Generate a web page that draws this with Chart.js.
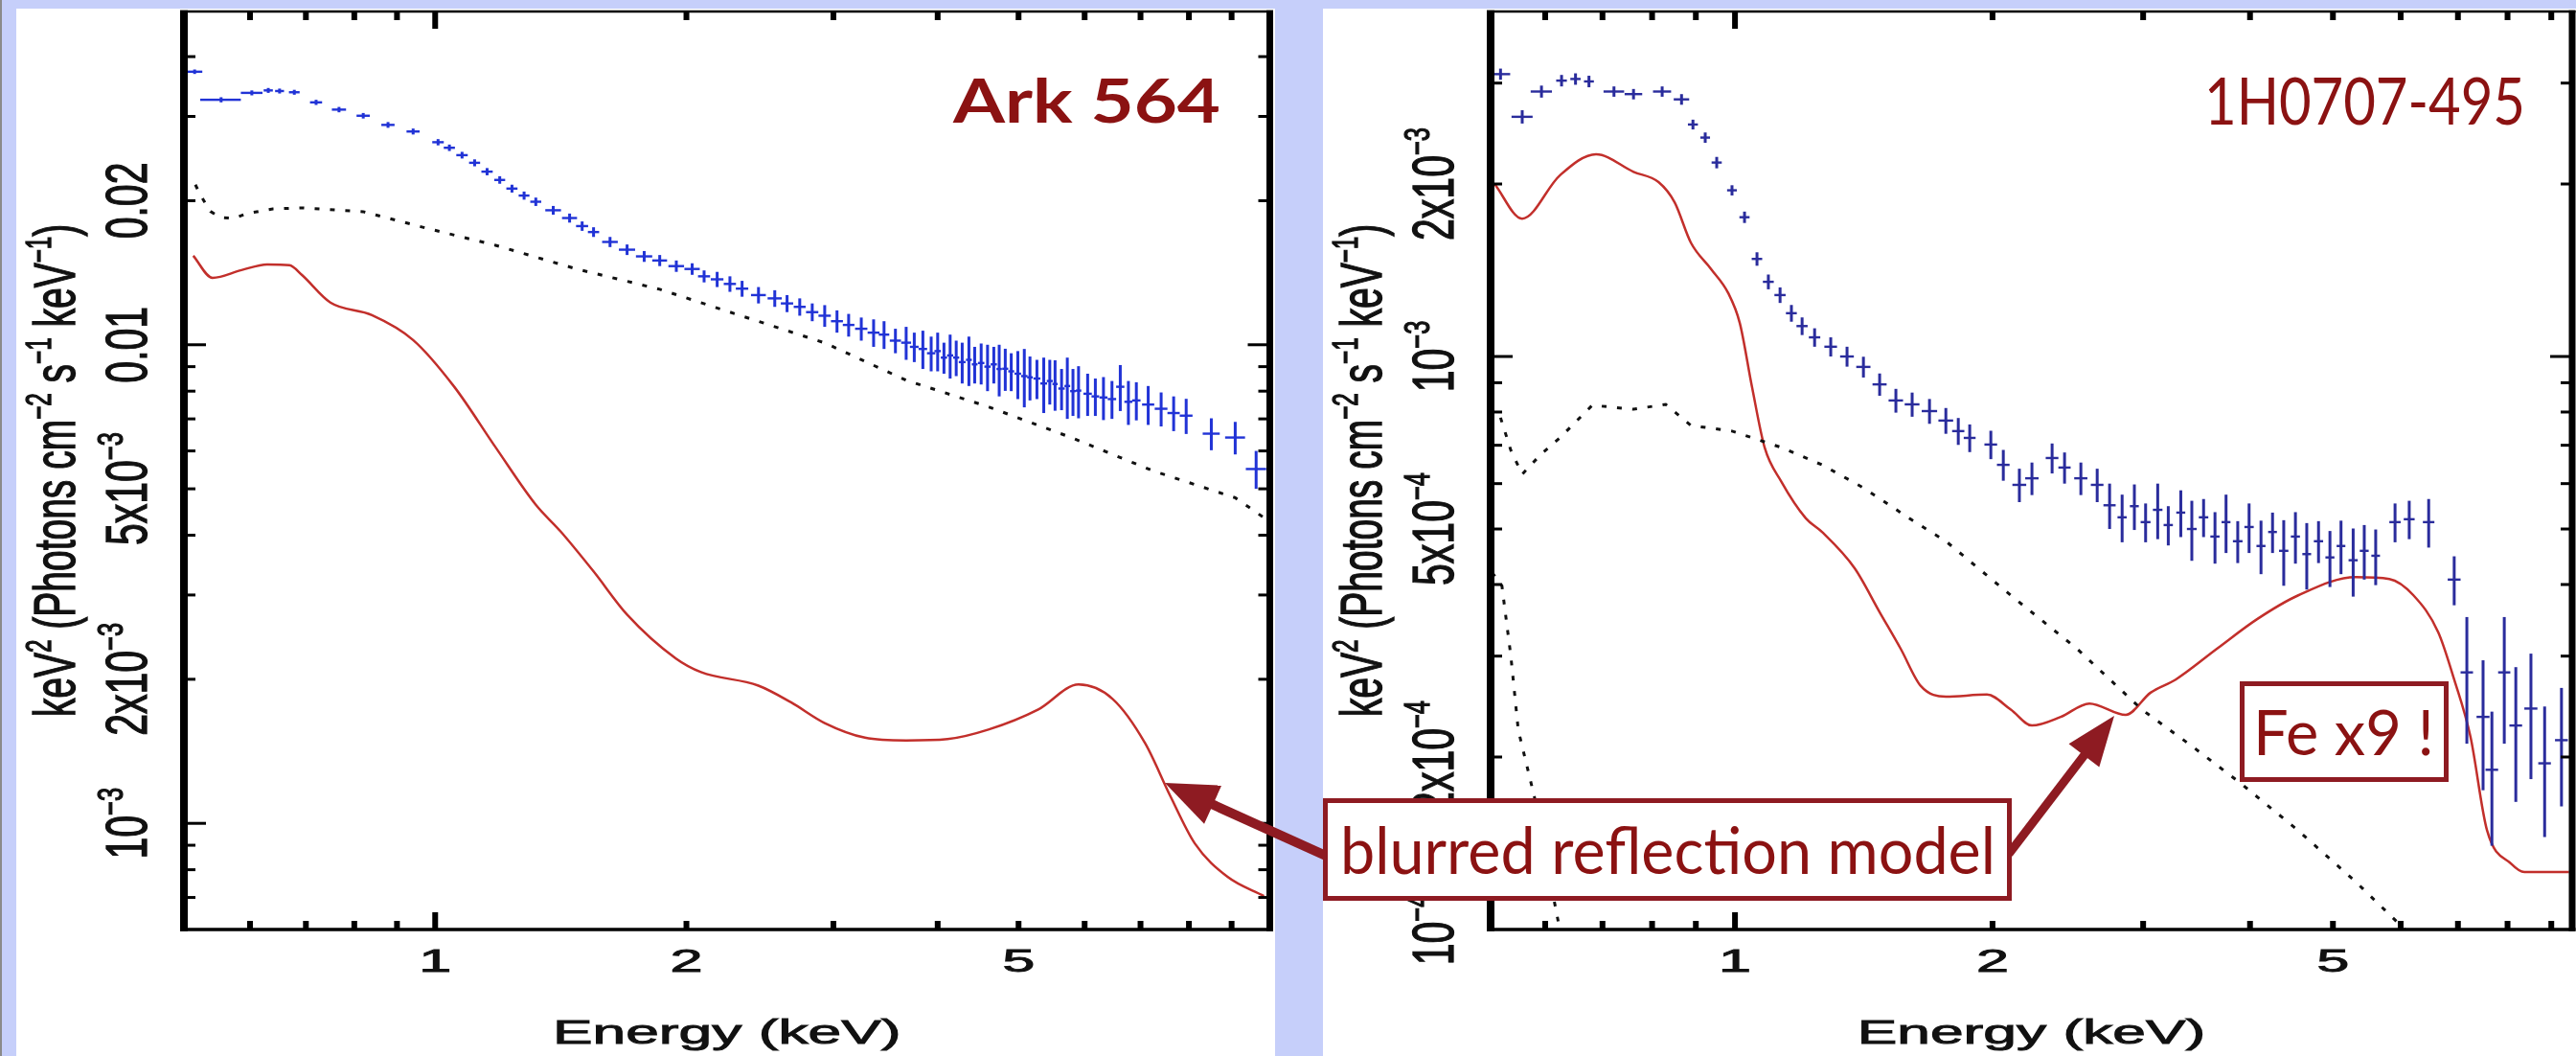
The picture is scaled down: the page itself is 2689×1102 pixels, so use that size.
<!DOCTYPE html>
<html>
<head>
<meta charset="utf-8">
<script src="https://cdn.jsdelivr.net/npm/chart.js@4.4.1/dist/chart.umd.min.js"></script>
<style>
body { margin: 0; width: 2689px; height: 1102px; background: #c6cffa; position: relative; overflow: hidden; }
.edge { position: absolute; left: 0; top: 0; width: 2px; height: 1102px; background: #8a8a8a; }
.panel { position: absolute; background: #fff; }
.panel canvas { display: block; }
.lbl { position: absolute; white-space: nowrap; color: #8b1212; font-family: Lato, "Open Sans", sans-serif; line-height: 1; transform-origin: 0 0; }
.box { position: absolute; background: #fff; border: 5px solid #8e1b22; box-sizing: border-box; }
#arrows { position: absolute; left: 0; top: 0; }
</style>
</head>
<body>
<div class="edge"></div>
<div class="panel" style="left:17px;top:9px;width:1314px;height:1093px"><canvas id="c1" width="1314" height="1093"></canvas></div>
<div class="panel" style="left:1381px;top:9px;width:1308px;height:1093px"><canvas id="c2" width="1308" height="1093"></canvas></div>
<svg id="arrows" width="2689" height="1102"></svg>
<div class="box" style="left:1381px;top:833px;width:719px;height:107px"></div>
<div class="box" style="left:2338px;top:711px;width:218px;height:105px"></div>
<div class="lbl" data-w="279" style="left:995px;top:72px;font-size:64px;font-weight:700">Ark 564</div>
<div class="lbl" data-w="335" style="left:2301px;top:70px;font-size:68px">1H0707-495</div>
<div class="lbl" data-w="684" style="left:1399px;top:852px;font-size:68px">blurred reflection model</div>
<div class="lbl" data-w="189" style="left:2352px;top:730px;font-size:66px">Fe x9 !</div>
<script>
// ---- Ark 564 (left panel) ----
var arkE = [0.515,0.554,0.603,0.631,0.651,0.678,0.72,0.767,0.82,0.878,0.941,1.008,1.04,1.077,1.115,1.154,1.195,1.236,1.278,1.32,1.385,1.449,1.5,1.548,1.62,1.698,1.78,1.858,1.945,2.032,2.1,2.177,2.255,2.332,2.44,2.552,2.64,2.734,2.83,2.929,3.03,3.129,3.24,3.352,3.45,3.56,3.667,3.75,3.84,3.929,4.0,4.07,4.14,4.21,4.28,4.36,4.43,4.51,4.59,4.67,4.74,4.82,4.9,4.99,5.08,5.16,5.26,5.36,5.45,5.53,5.63,5.72,5.81,5.9,6.05,6.18,6.32,6.47,6.62,6.77,6.92,7.15,7.41,7.67,7.94,8.51,9.09,9.63];
var arkFlux = [0.0372,0.0325,0.0336,0.034,0.0339,0.0337,0.0321,0.031,0.0301,0.0288,0.0279,0.0265,0.0258,0.0249,0.024,0.023,0.0221,0.0212,0.0205,0.0199,0.0191,0.0184,0.0177,0.0172,0.0164,0.0158,0.0153,0.015,0.0146,0.0144,0.0139,0.0137,0.0134,0.0131,0.0127,0.0125,0.0122,0.012,0.0117,0.0115,0.0112,0.011,0.0108,0.0106,0.0105,0.0102,0.0101,0.0099,0.0098,0.0096,0.0097,0.0094,0.0095,0.0094,0.0092,0.0093,0.0091,0.00916,0.009,0.0091,0.0089,0.00891,0.0088,0.0087,0.0086,0.00855,0.0085,0.0083,0.0084,0.00828,0.0081,0.0082,0.008,0.00802,0.0079,0.0078,0.00776,0.0077,0.00817,0.0076,0.00765,0.0075,0.00735,0.0072,0.00711,0.00652,0.0064,0.0055];
var arkEErr = [0.011,0.031,0.018,0.008,0.008,0.01,0.012,0.015,0.015,0.016,0.017,
  0.016,0.016,0.017,0.017,0.018,0.018,0.019,0.019,0.02,0.03,0.03,0.025,0.024,0.035,0.038,0.04,0.038,0.042,0.043,
  0.035,0.038,0.038,0.04,0.05,0.05,0.045,0.045,0.048,0.05,0.05,0.05,0.055,0.055,0.05,0.055,0.05,0.045,0.045,0.045,
  0.035,0.035,0.035,0.035,0.04,0.035,0.035,0.04,0.04,0.04,0.035,0.04,0.04,0.045,0.045,0.04,0.05,0.05,0.045,0.04,0.05,0.045,0.045,0.045,
  0.07,0.065,0.07,0.075,0.075,0.075,0.08,0.12,0.13,0.13,0.14,0.2,0.25,0.27];
var arkFluxErr = [0.0004,0.0004,0.0004,0.0004,0.0004,0.0004,0.0004,0.0004,0.0004,0.0004,0.0004,
  0.0004,0.0004,0.0004,0.0004,0.0004,0.0004,0.0004,0.0004,0.0004,0.0004,0.0004,0.0004,0.0004,0.0004,0.0004,0.0004,0.0004,0.0004,0.0004,
  0.0004,0.0005,0.0005,0.0005,0.0005,0.0005,0.0005,0.0005,0.0005,0.0006,0.0006,0.0006,0.0006,0.0007,0.0007,0.0006,0.0008,0.0007,0.0009,0.0008,
  0.0009,0.0007,0.001,0.0008,0.0009,0.0011,0.0008,0.0009,0.001,0.0008,0.0011,0.0009,0.0008,0.001,0.0012,0.0009,0.0008,0.0011,0.0009,0.001,0.0008,0.0012,0.0009,0.001,
  0.0008,0.0007,0.0008,0.0007,0.0009,0.0008,0.0007,0.0007,0.0006,0.0006,0.0006,0.0005,0.0005,0.0005];
var arkContE = [0.516,0.523,0.531,0.538,0.553,0.574,0.594,0.639,0.692,0.82,0.984,1.181,1.479,1.858,2.332,2.929,3.667,4.61,5.78,7.25,9.09,9.9];
var arkContFlux = [0.0216,0.0206,0.0197,0.019,0.01845,0.01837,0.01879,0.01923,0.01932,0.01897,0.01746,0.01614,0.01439,0.01306,0.01148,0.01009,0.00843,0.00741,0.0064,0.00545,0.00479,0.00432];
var arkReflE = [0.513,0.541,0.586,0.629,0.669,0.692,0.749,0.84,0.941,1.054,1.181,1.32,1.414,1.548,1.698,1.943,2.082,2.439,2.669,2.929,3.273,3.667,4.11,4.6,5.28,5.9,6.48,7.09,7.6,8.13,8.9,9.84];
var arkReflFlux = [0.01535,0.0138,0.01432,0.01472,0.01466,0.014,0.01225,0.01153,0.01023,0.00817,0.00611,0.00463,0.00407,0.00336,0.00273,0.00221,0.00207,0.00194,0.00179,0.00162,0.00151,0.00149,0.0015,0.00157,0.00173,0.00195,0.00182,0.00147,0.00114,0.000908,0.000773,0.000705];

// ---- 1H0707-495 (right panel) ----
var irasE = [0.532,0.564,0.594,0.627,0.651,0.675,0.722,0.761,0.822,0.866,0.893,0.923,0.952,0.992,1.026,1.061,1.094,1.129,1.164,1.198,1.239,1.294,1.352,1.413,1.476,1.542,1.611,1.688,1.764,1.824,1.881,1.991,2.059,2.15,2.224,2.348,2.428,2.537,2.651,2.741,2.835,2.93,3.02,3.12,3.21,3.32,3.42,3.53,3.64,3.75,3.87,3.99,4.12,4.25,4.38,4.52,4.66,4.81,4.96,5.11,5.28,5.44,5.61,5.91,6.14,6.47,6.93,7.17,7.49,7.67,7.93,8.18,8.52,8.84,9.25];
var irasFlux = [0.00311,0.00262,0.0029,0.00303,0.00305,0.00302,0.0029,0.00287,0.0029,0.00281,0.00254,0.00241,0.00218,0.00195,0.00175,0.00148,0.00135,0.00128,0.00119,0.00113,0.00108,0.00104,0.001,0.000959,0.000894,0.000838,0.000825,0.000803,0.000773,0.000741,0.000721,0.000702,0.000647,0.000597,0.000613,0.000665,0.00064,0.000613,0.000597,0.00055,0.000524,0.000548,0.000514,0.00054,0.000508,0.000534,0.0005,0.000524,0.000485,0.000514,0.000476,0.000504,0.000467,0.000494,0.000458,0.000485,0.000452,0.000476,0.000446,0.000467,0.000441,0.000458,0.000449,0.000514,0.00052,0.000514,0.000408,0.000281,0.000235,0.00019,0.000281,0.000227,0.000243,0.000195,0.000214];
var irasEErr = [0.014,0.016,0.017,0.009,0.009,0.009,0.02,0.018,0.02,0.018,
  0.012,0.012,0.013,0.013,0.014,0.015,0.016,0.017,0.017,0.018,0.019,0.022,0.025,0.027,0.028,0.03,0.032,0.035,0.035,0.03,0.03,
  0.034,0.035,0.04,0.04,0.04,0.04,0.045,0.045,0.045,
  0.035,0.035,0.04,0.04,0.04,0.04,0.045,0.045,0.045,0.045,0.05,0.05,0.05,0.05,0.055,0.055,0.055,0.06,0.06,0.06,0.065,0.065,0.065,
  0.09,0.09,0.1,
  0.12,0.12,0.13,0.13,0.13,0.14,0.15,0.15,0.16];
var irasFluxErr = [0.00007,0.00007,0.00007,0.00007,0.00007,0.00007,0.00006,0.00006,0.00006,0.00006,
  0.00005,0.00005,0.00005,0.00004,0.00004,0.00004,0.00004,0.00004,0.00004,0.00004,0.00004,0.00004,0.00004,0.00004,0.00004,0.00004,0.00004,0.00004,0.00004,0.00004,0.00004,
  0.00004,0.00004,0.00004,0.00004,0.00004,0.00004,0.00004,0.00004,0.00005,
  0.00005,0.00005,0.00004,0.00006,0.00004,0.00005,0.00006,0.00004,0.00005,0.00006,0.00004,0.00005,0.00005,0.00004,0.00006,0.00005,0.00006,0.00004,0.00005,0.00005,0.00006,0.00005,0.00005,
  0.00004,0.00004,0.00005,
  0.00004,0.00007,0.00006,0.00005,0.00007,0.00006,0.00006,0.00005,0.00005];
var irasPlE = [0.532,0.547,0.564,0.592,0.624,0.681,0.761,0.83,0.888,0.992,1.132,1.264,1.413,1.611,1.764,2.101,2.511,2.99,3.42,3.9,4.55,5.32,6.07,6.9];
var irasPlFlux = [0.000782,0.000686,0.000623,0.000673,0.000721,0.000822,0.000809,0.000825,0.000758,0.000741,0.000694,0.000647,0.00059,0.000518,0.000476,0.000383,0.000309,0.000242,0.000209,0.00018,0.000149,0.000121,0.0001,0.00008];
var irasBbE = [0.52,0.534,0.547,0.558,0.583,0.603,0.624,0.65];
var irasBbFlux = [0.00042,0.000398,0.0003,0.000223,0.00017,0.00013,0.0001,0.000075];
var irasReflE = [0.5236,0.564,0.624,0.688,0.761,0.814,0.85,0.888,0.938,0.982,1.013,1.047,1.083,1.132,1.21,1.264,1.38,1.476,1.562,1.649,1.764,1.97,2.101,2.224,2.403,2.596,2.863,3.06,3.274,3.659,4.077,4.555,5.317,5.82,6.21,6.64,6.93,7.24,7.57,8.09,8.37,9.44];
var irasReflFlux = [0.002,0.00174,0.00207,0.002254,0.0021,0.002015,0.001858,0.00158,0.00142,0.00129,0.001144,0.000884,0.000694,0.000606,0.000522,0.000494,0.000427,0.000358,0.000309,0.000266,0.000255,0.000257,0.000242,0.000227,0.000235,0.000248,0.000237,0.000259,0.000273,0.000309,0.000348,0.000383,0.000412,0.000409,0.000383,0.00033,0.000273,0.000217,0.000149,0.00013,0.000126,0.000126];

// ---- axes ----
var xTicks = [0.6,0.7,0.8,0.9,1,2,3,4,5,6,7,8,9];
var xMajor = [1];
var xLabelVals = [1,2,5];
var xLabelText = ['1','2','5'];
var xTitle = 'Energy (keV)';
var yTitle = 'keV|2| (Photons cm|\u22122| s|\u22121| keV|\u22121|)';
var arkYTicks = [7e-4,8e-4,9e-4,1e-3,2e-3,3e-3,4e-3,5e-3,6e-3,7e-3,8e-3,9e-3,0.01,0.02,0.03,0.04];
var arkYMajor = [1e-3,0.01];
var arkYLabelVals = [0.02,0.01,5e-3,2e-3,1e-3];
var arkYLabelText = ['0.02','0.01','5x10|\u22123','2x10|\u22123','10|\u22123'];
var irasYTicks = [2e-4,3e-4,4e-4,5e-4,6e-4,7e-4,8e-4,9e-4,1e-3,2e-3,3e-3];
var irasYMajor = [1e-3];
var irasYLabelVals = [2e-3,1e-3,5e-4,2e-4,1e-4];
var irasYLabelText = ['2x10|\u22123','10|\u22123','5x10|\u22124','2x10|\u22124','10|\u22124'];

var FONT = '"Liberation Sans", Arial, sans-serif';
var redLine = '#c22f2b';

function pts(xs, ys) {
    return xs.map(function (x, i) { return {x: x, y: ys[i]}; });
}

function drawText(ctx, x, y, str, size, sx, rotated) {
    var parts = str.split('|');
    ctx.save();
    ctx.translate(x, y);
    ctx.scale(sx, 1);
    if (rotated) ctx.rotate(-Math.PI / 2);
    ctx.fillStyle = '#111';
    ctx.strokeStyle = '#111';
    ctx.lineWidth = 0.9;
    ctx.textBaseline = 'alphabetic';
    ctx.textAlign = 'left';
    var widths = [], total = 0;
    parts.forEach(function (t, i) {
        ctx.font = (i % 2 ? size * 0.62 : size) + 'px ' + FONT;
        widths.push(ctx.measureText(t).width);
        total += widths[i];
    });
    var u = -total / 2;
    parts.forEach(function (t, i) {
        var dy = i % 2 ? -size * 0.42 : 0;
        ctx.font = (i % 2 ? size * 0.62 : size) + 'px ' + FONT;
        ctx.fillText(t, u, dy);
        ctx.strokeText(t, u, dy);
        u += widths[i];
    });
    ctx.restore();
}

// error crosses, frame, ticks and labels
function framePlugin(cfg) {
    return {
        id: 'frame',
        afterDatasetsDraw: function (chart) {
            var ctx = chart.ctx, a = chart.chartArea;
            var xs = chart.scales.x, ys = chart.scales.y;
            ctx.save();
            ctx.beginPath();
            ctx.rect(a.left, a.top, a.right - a.left, a.bottom - a.top);
            ctx.clip();
            ctx.fillStyle = cfg.color;
            cfg.e.forEach(function (e, i) {
                var px = xs.getPixelForValue(e), py = ys.getPixelForValue(cfg.f[i]);
                var x1 = xs.getPixelForValue(e - cfg.de[i]), x2 = xs.getPixelForValue(e + cfg.de[i]);
                var y1 = ys.getPixelForValue(cfg.f[i] + cfg.df[i]), y2 = ys.getPixelForValue(cfg.f[i] - cfg.df[i]);
                ctx.fillRect(x1, py - 1.2, x2 - x1, 2.4);
                ctx.fillRect(px - 1.5, y1, 3, y2 - y1);
            });
            ctx.restore();

            ctx.save();
            ctx.fillStyle = '#000';
            xTicks.forEach(function (v) {
                var px = xs.getPixelForValue(v);
                if (px < a.left || px > a.right) return;
                var len = xMajor.indexOf(v) >= 0 ? 18 : 9;
                ctx.fillRect(px - 3, a.bottom - len, 6, len);
                ctx.fillRect(px - 3, a.top, 6, len);
            });
            cfg.yTicks.forEach(function (v) {
                var py = ys.getPixelForValue(v);
                var len = cfg.yMajor.indexOf(v) >= 0 ? 23 : 12;
                ctx.fillRect(a.left, py - 1.5, len, 3);
                ctx.fillRect(a.right - len, py - 1.5, len, 3);
            });
            ctx.fillRect(a.left - 4, a.top - 1.25, 8, a.bottom - a.top + 3);
            ctx.fillRect(a.right - 3.5, a.top - 1.25, 7, a.bottom - a.top + 3);
            ctx.fillRect(a.left - 4, a.top - 1.25, a.right - a.left + 7.5, 2.5);
            ctx.fillRect(a.left - 4, a.bottom - 1.75, a.right - a.left + 7.5, 3.5);
            ctx.restore();

            xLabelVals.forEach(function (v, i) {
                drawText(ctx, xs.getPixelForValue(v), a.bottom + 44, xLabelText[i], 34, 1.8, false);
            });
            drawText(ctx, (a.left + a.right) / 2, a.bottom + 119, xTitle, 35, 1.78, false);
            cfg.yLabelVals.forEach(function (v, i) {
                drawText(ctx, a.left - 39, ys.getPixelForValue(v), cfg.yLabelText[i], 41, 1.48, true);
            });
            drawText(ctx, a.left - 114, (a.top + a.bottom) / 2, yTitle, 39, 1.55, true);
        }
    };
}

function makeChart(id, cfg) {
    return new Chart(document.getElementById(id), {
        type: 'scatter',
        data: {
            datasets: cfg.datasets
        },
        options: {
            responsive: false,
            animation: false,
            events: [],
            layout: { padding: { left: 175, right: cfg.padRight, top: 3, bottom: 132 } },
            plugins: { legend: { display: false }, tooltip: { enabled: false } },
            scales: {
                x: { type: 'logarithmic', min: cfg.xMin, max: cfg.xMax, display: false },
                y: { type: 'logarithmic', min: cfg.yMin, max: cfg.yMax, display: false }
            }
        },
        plugins: [framePlugin(cfg)]
    });
}

var dotted = { showLine: true, borderColor: '#111', borderWidth: 3, borderDash: [5, 11], pointRadius: 0 };
var solid = { showLine: true, borderColor: redLine, borderWidth: 2.5, pointRadius: 0, cubicInterpolationMode: 'monotone' };

makeChart('c1', {
    padRight: 5.5, xMin: 0.5, xMax: 10, yMin: 6.03e-4, yMax: 0.0497,
    color: '#2133d6', e: arkE, f: arkFlux, de: arkEErr, df: arkFluxErr,
    yTicks: arkYTicks, yMajor: arkYMajor, yLabelVals: arkYLabelVals, yLabelText: arkYLabelText,
    datasets: [
        Object.assign({ data: pts(arkContE, arkContFlux) }, dotted),
        Object.assign({ data: pts(arkReflE, arkReflFlux) }, solid),
        { data: pts(arkE, arkFlux), pointRadius: 0 }
    ]
});

makeChart('c2', {
    padRight: 4, xMin: 0.518, xMax: 9.52, yMin: 1e-4, yMax: 4e-3,
    color: '#2a2c9c', e: irasE, f: irasFlux, de: irasEErr, df: irasFluxErr,
    yTicks: irasYTicks, yMajor: irasYMajor, yLabelVals: irasYLabelVals, yLabelText: irasYLabelText,
    datasets: [
        Object.assign({ data: pts(irasPlE, irasPlFlux) }, dotted),
        Object.assign({ data: pts(irasBbE, irasBbFlux) }, dotted),
        Object.assign({ data: pts(irasReflE, irasReflFlux) }, solid),
        { data: pts(irasE, irasFlux), pointRadius: 0 }
    ]
});

// annotation arrows
function addArrow(svg, x1, y1, x2, y2, w, hl, hw) {
    var dx = x2 - x1, dy = y2 - y1, L = Math.hypot(dx, dy);
    var ux = dx / L, uy = dy / L, nx = -uy, ny = ux;
    var bx = x2 - ux * hl, by = y2 - uy * hl;
    var ns = 'http://www.w3.org/2000/svg';
    var line = document.createElementNS(ns, 'line');
    line.setAttribute('x1', x1); line.setAttribute('y1', y1);
    line.setAttribute('x2', bx + ux * 4); line.setAttribute('y2', by + uy * 4);
    line.setAttribute('stroke', '#8e1b22'); line.setAttribute('stroke-width', w);
    svg.appendChild(line);
    var head = document.createElementNS(ns, 'polygon');
    head.setAttribute('points', x2 + ',' + y2 + ' ' + (bx + nx * hw) + ',' + (by + ny * hw) + ' ' + (bx - nx * hw) + ',' + (by - ny * hw));
    head.setAttribute('fill', '#8e1b22');
    svg.appendChild(head);
}
var svg = document.getElementById('arrows');
addArrow(svg, 1384, 893, 1216, 817, 10, 55, 22);
addArrow(svg, 2097, 891, 2207, 747, 9, 52, 20);

document.querySelectorAll('.lbl').forEach(function (el) {
    var w = +el.dataset.w;
    el.style.transform = 'scaleX(' + (w / el.getBoundingClientRect().width) + ')';
});
</script>
</body>
</html>
